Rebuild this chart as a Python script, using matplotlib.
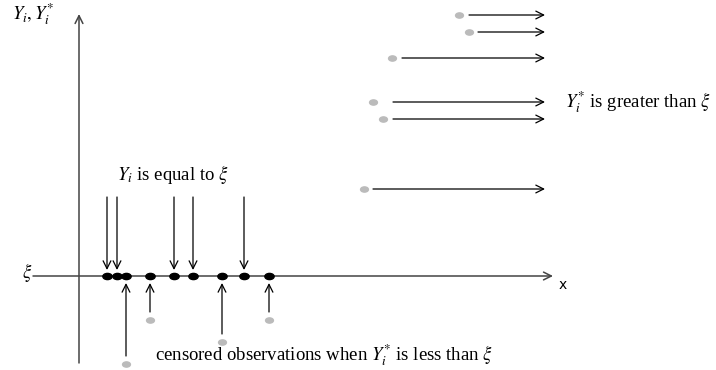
import numpy as np
import matplotlib
matplotlib.use("Agg")
import matplotlib.pyplot as plt
from matplotlib.path import Path

plt.rcParams['font.family'] = ['Liberation Serif', 'DejaVu Serif']
plt.rcParams['mathtext.fontset'] = 'stix'

# diagram drawn in a pixel-like coordinate system (y grows downward)
XI = 276            # level of the threshold xi
obs_x = [107, 117, 126, 150, 174, 193, 222, 244, 269]   # observed Y_i on the xi line
equal_x = [107, 117, 174, 193, 244]                     # Y_i equal to xi
low_x = [126, 150, 222, 269]                            # censored from below
low_y = [364, 320, 342, 320]
high_x = [459, 469, 392, 373, 383, 364]                 # Y_i* greater than xi
high_y = [15, 32, 58, 102, 119, 189]
high_start = [469, 478, 402, 393, 393, 373]
ARROW_END = 545

fig = plt.figure(figsize=(7.16, 3.70), dpi=100)
ax = fig.add_axes([0, 0, 1, 1])
ax.set_xlim(0, 716)
ax.set_ylim(370, 0)
ax.axis('off')


def arrow(x0, y0, x1, y1, color='black', lw=0.9):
    ax.annotate('', xy=(x1, y1), xytext=(x0, y0),
                arrowprops=dict(arrowstyle='->', color=color, lw=lw,
                                shrinkA=0, shrinkB=0, mutation_scale=14))


# axes
arrow(79, 363, 79, 14, color='#444444', lw=1.1)
arrow(33, XI, 553, XI, color='#444444', lw=1.1)
ax.text(55, 14, r'$Y_i, Y_i^{*}$', fontsize=13.5, ha='right', va='center')
ax.text(27, XI - 3, r'$\xi$', fontsize=13.5, ha='center', va='center')
ax.text(563, 285, 'x', fontsize=10, family='DejaVu Sans', ha='center', va='center')

# elliptical marker
ell = Path.unit_circle().transformed(matplotlib.transforms.Affine2D().scale(1.5, 1.0))

# arrows pointing down onto xi
for x in equal_x:
    arrow(x, 197, x, 270)
# arrows from censored values up to xi
for x, y in zip(low_x, low_y):
    arrow(x, y - 8, x, 283)
# arrows right for values greater than xi
for xs, y in zip(high_start, high_y):
    arrow(xs, y, ARROW_END, y)

ax.scatter(obs_x, [XI] * len(obs_x), marker=ell, s=45, color='black', zorder=3)
ax.scatter(low_x, low_y, marker=ell, s=32, color='#bbbbbb', zorder=3)
ax.scatter(high_x, high_y, marker=ell, s=32, color='#bbbbbb', zorder=3)

ax.text(117, 175, r'$Y_i$ is equal to $\xi$', fontsize=13.5, ha='left', va='center')
ax.text(565, 102, r'$Y_i^{*}$ is greater than $\xi$', fontsize=13.5, ha='left', va='center')
ax.text(155, 355, r'censored observations when $Y_i^{*}$ is less than $\xi$',
        fontsize=13.5, ha='left', va='center')

fig.savefig('out.png', dpi=100)
